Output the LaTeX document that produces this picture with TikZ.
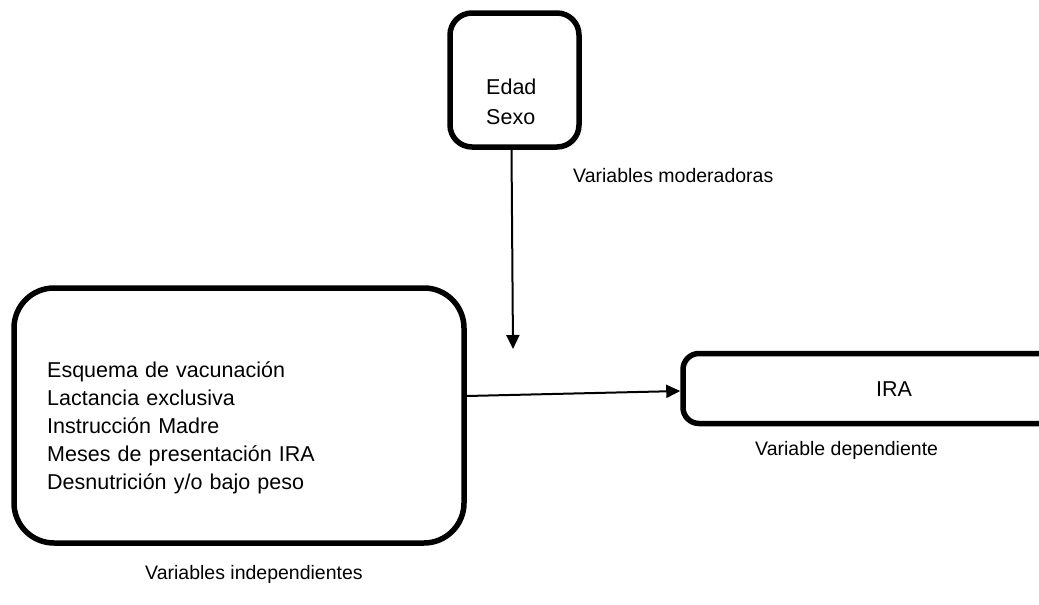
\documentclass[tikz,border=0pt]{standalone}
\usepackage{fontspec}
\setmainfont{Liberation Sans}
\usetikzlibrary{arrows.meta}

\newcommand{\bodysize}{\fontsize{21.5}{28}\selectfont}
\newcommand{\notesize}{\fontsize{19.5}{24}\selectfont}

\begin{document}
\begin{tikzpicture}[x=1pt, y=-1pt]
        \useasboundingbox (0,0) rectangle (1039,605);
        \clip (0,0) rectangle (1039,605);
        \begin{scope}[every node/.style={draw, line width=5.5pt, inner sep=0pt}]
                \node [minimum width=129pt, minimum height=134pt, rounded corners=22pt] (Mod) at (514.5,80) {};
                \node [minimum width=450pt, minimum height=255pt, rounded corners=40pt] (Ind) at (239,415.5) {};
                \node [minimum width=417pt, minimum height=70pt, rounded corners=16pt] (Dep) at (891.5,388.5) {};
        \end{scope}
        \begin{scope}[every node/.style={inner sep=0pt, align=left, anchor=base west}]
                \node [font=\fontsize{21.5}{30.5}\selectfont, text width=100pt] (ModTxt) at (486,94) {Edad\\Sexo};
                \node [font=\bodysize, text width=300pt] (IndTxt) at (47,377) {Esquema de vacunación\\Lactancia exclusiva\\Instrucción Madre\\Meses de presentación IRA\\Desnutrición y/o bajo peso};
                \node [font=\bodysize] (DepTxt) at (876,396) {IRA};
                \node [font=\notesize] (ModLbl) at (573,182) {Variables moderadoras};
                \node [font=\notesize] (DepLbl) at (755,455) {Variable dependiente};
                \node [font=\notesize] (IndLbl) at (145,579) {Variables independientes};
        \end{scope}
        \coordinate (Tip) at (513,349);
        \begin{scope}[every path/.style={line width=2pt, -{Triangle[length=14pt, width=13pt]}}]
                \path (Mod.south) ++(-3pt,0) edge (Tip);
                \path ([yshift=19.5pt]Ind.east) edge ([yshift=-2.5pt]Dep.west);
        \end{scope}
\end{tikzpicture}
\end{document}
